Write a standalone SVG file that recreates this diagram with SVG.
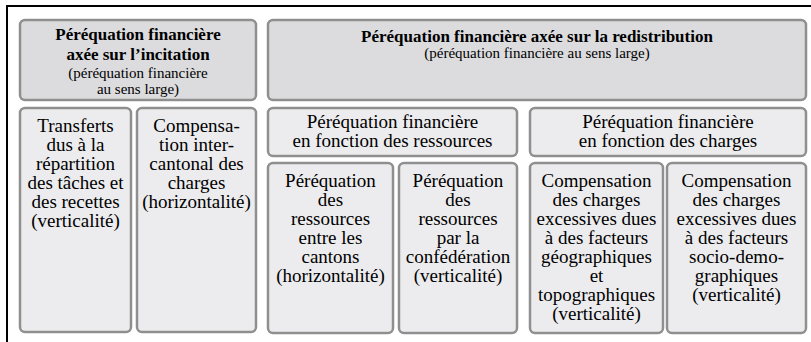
<svg xmlns="http://www.w3.org/2000/svg" width="811" height="342" viewBox="0 0 811 342">
<style>
  .top { fill: #dcdcde; stroke: #8f8f8f; stroke-width: 2.5; }
  .sub { fill: #ececee; stroke: #8f8f8f; stroke-width: 2.5; }
  text { font-family: "Liberation Serif", "Times New Roman", serif; fill: #000; text-anchor: middle; }
  .b { font-size: 17px; font-weight: bold; }
  .s { font-size: 15px; }
  .t { font-size: 19px; }
  .frame { stroke: #000; stroke-width: 2; fill: none; }
</style>
<rect width="811" height="342" fill="#ffffff"/>
<path class="frame" d="M7,342 V6 H811"/>
<g id="connectors"/>
<g id="incitation">
  <rect class="top" x="20" y="20" width="236" height="80" rx="5"/>
  <text class="b" x="138" y="40">Péréquation financière</text>
  <text class="b" x="138" y="60">axée sur l’incitation</text>
  <text class="s" x="138" y="77.5">(péréquation financière</text>
  <text class="s" x="138" y="94">au sens large)</text>
</g>
<g id="redistribution">
  <rect class="top" x="268" y="20" width="538" height="80" rx="5"/>
  <text class="b" x="537" y="42">Péréquation financière axée sur la redistribution</text>
  <text class="s" x="537" y="58">(péréquation financière au sens large)</text>
</g>
<g id="transferts">
  <rect class="sub" x="20" y="108" width="111" height="224" rx="5"/>
  <text class="t" x="75.5" y="132">Transferts</text>
  <text class="t" x="75.5" y="151">dus à la</text>
  <text class="t" x="75.5" y="170">répartition</text>
  <text class="t" x="75.5" y="189">des tâches et</text>
  <text class="t" x="75.5" y="208">des recettes</text>
  <text class="t" x="75.5" y="227">(verticalité)</text>
</g>
<g id="compensation-intercantonale">
  <rect class="sub" x="137" y="108" width="119" height="224" rx="5"/>
  <text class="t" x="196.5" y="132">Compensa-</text>
  <text class="t" x="196.5" y="151">tion inter-</text>
  <text class="t" x="196.5" y="170">cantonal des</text>
  <text class="t" x="196.5" y="189">charges</text>
  <text class="t" x="196.5" y="208">(horizontalité)</text>
</g>
<g id="ressources">
  <rect class="sub" x="268" y="108" width="249" height="48" rx="5"/>
  <text class="t" x="392.5" y="127.5">Péréquation financière</text>
  <text class="t" x="392.5" y="146.5">en fonction des ressources</text>
</g>
<g id="charges">
  <rect class="sub" x="530" y="108" width="276" height="48" rx="5"/>
  <text class="t" x="668" y="127.5">Péréquation financière</text>
  <text class="t" x="668" y="146.5">en fonction des charges</text>
</g>
<g id="ressources-cantons">
  <rect class="sub" x="268" y="163" width="125" height="170" rx="5"/>
  <text class="t" x="330.5" y="187">Péréquation</text>
  <text class="t" x="330.5" y="206">des</text>
  <text class="t" x="330.5" y="225">ressources</text>
  <text class="t" x="330.5" y="244">entre les</text>
  <text class="t" x="330.5" y="263">cantons</text>
  <text class="t" x="330.5" y="282">(horizontalité)</text>
</g>
<g id="ressources-confederation">
  <rect class="sub" x="399" y="163" width="118" height="170" rx="5"/>
  <text class="t" x="458" y="187">Péréquation</text>
  <text class="t" x="458" y="206">des</text>
  <text class="t" x="458" y="225">ressources</text>
  <text class="t" x="458" y="244">par la</text>
  <text class="t" x="458" y="263">confédération</text>
  <text class="t" x="458" y="282">(verticalité)</text>
</g>
<g id="charges-geo">
  <rect class="sub" x="530" y="163" width="133" height="170" rx="5"/>
  <text class="t" x="596.5" y="187">Compensation</text>
  <text class="t" x="596.5" y="206">des charges</text>
  <text class="t" x="596.5" y="225">excessives dues</text>
  <text class="t" x="596.5" y="244">à des facteurs</text>
  <text class="t" x="596.5" y="263">géographiques</text>
  <text class="t" x="596.5" y="282">et</text>
  <text class="t" x="596.5" y="301">topographiques</text>
  <text class="t" x="596.5" y="320">(verticalité)</text>
</g>
<g id="charges-socio">
  <rect class="sub" x="667" y="163" width="139" height="170" rx="5"/>
  <text class="t" x="736.5" y="187">Compensation</text>
  <text class="t" x="736.5" y="206">des charges</text>
  <text class="t" x="736.5" y="225">excessives dues</text>
  <text class="t" x="736.5" y="244">à des facteurs</text>
  <text class="t" x="736.5" y="263">socio-demo-</text>
  <text class="t" x="736.5" y="282">graphiques</text>
  <text class="t" x="736.5" y="301">(verticalité)</text>
</g>
</svg>
